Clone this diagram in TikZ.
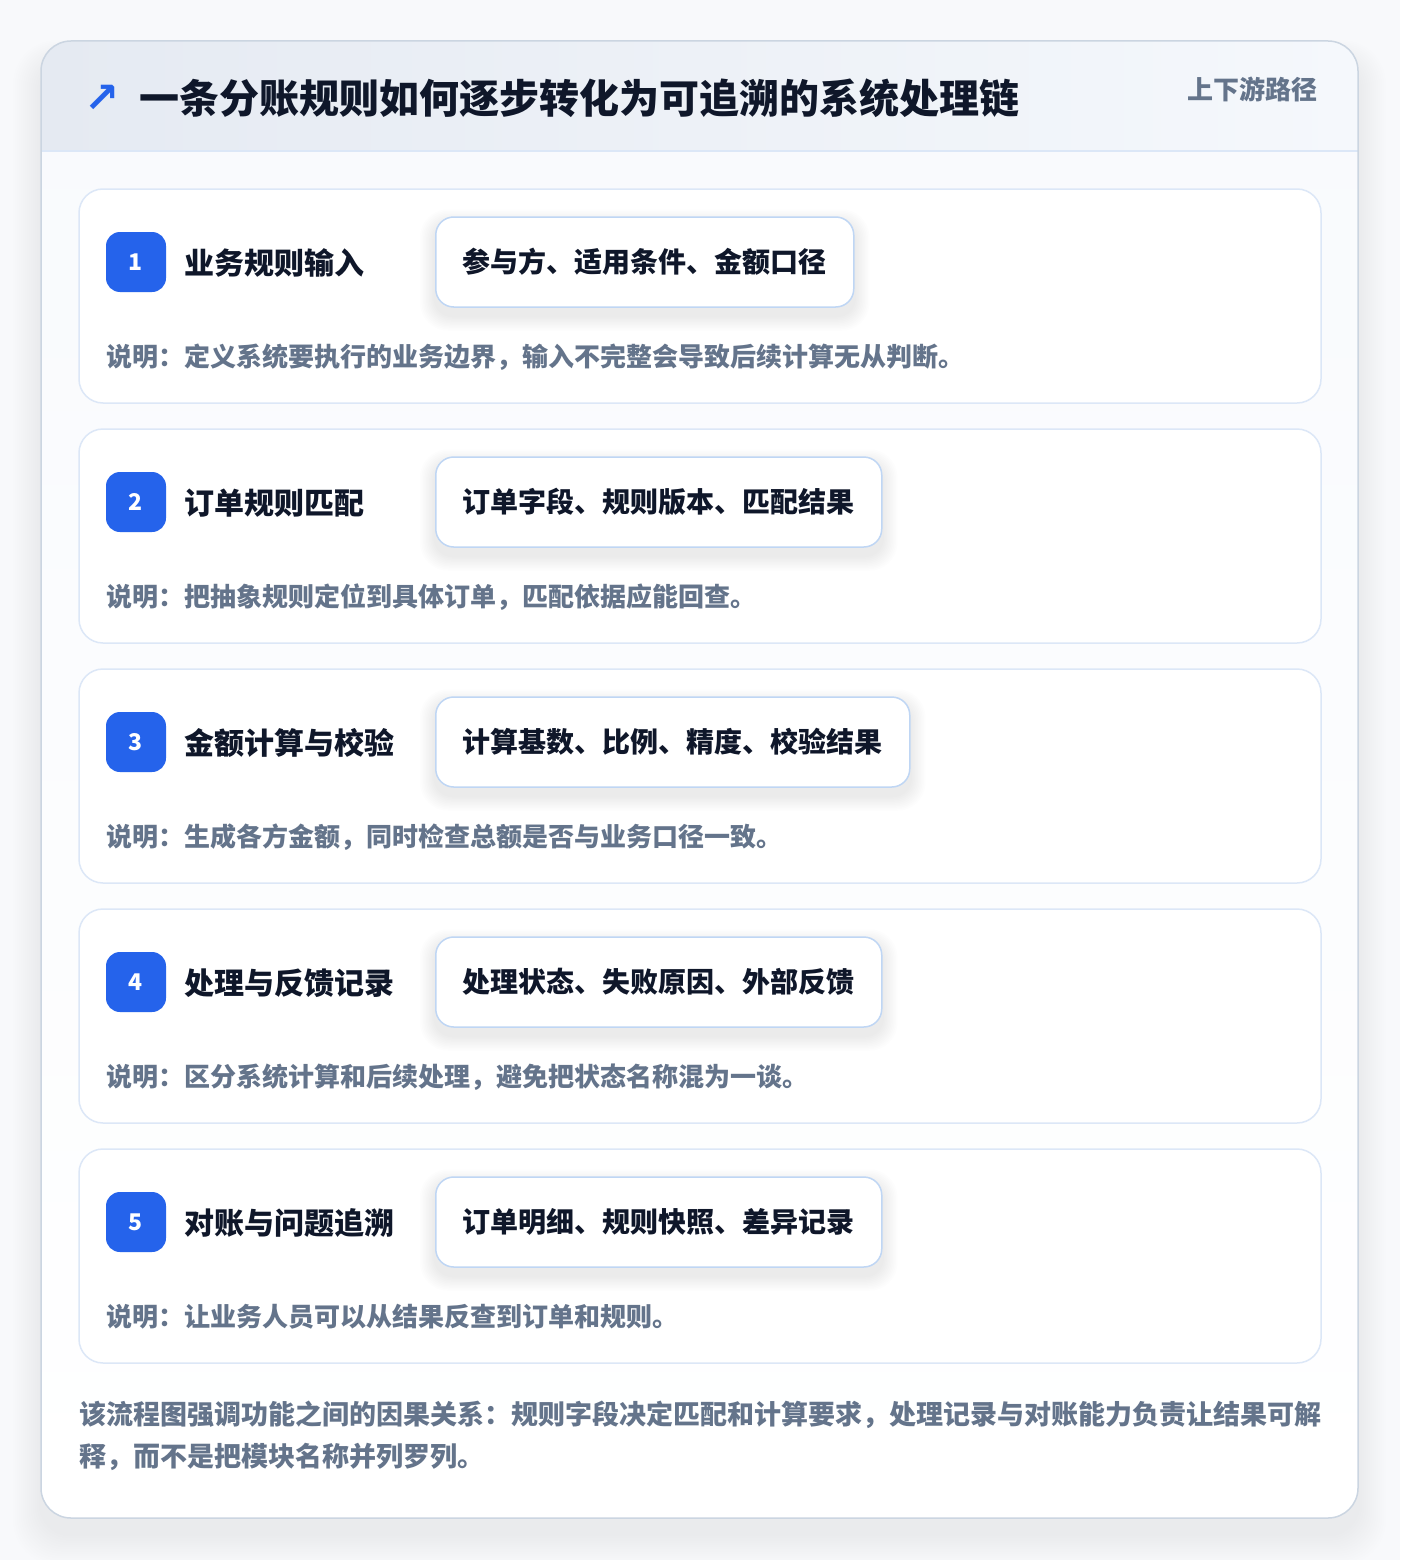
\documentclass[tikz,border=0pt]{standalone}
\usepackage{fontspec}
\setmainfont{Noto Sans CJK SC}
\newfontfamily\symfont{DejaVu Sans}
\usetikzlibrary{calc}
\definecolor{ink}{HTML}{0F172A}
\definecolor{muted}{HTML}{64748B}
\definecolor{brand}{HTML}{2563EB}
\definecolor{cardline}{HTML}{DCE7F7}
\definecolor{tagline}{HTML}{BFD6F4}
\definecolor{outerline}{HTML}{CBD5E1}
\definecolor{hdrL}{HTML}{E5EAF2}
\definecolor{hdrR}{HTML}{F5F8FC}
\definecolor{pagebg}{HTML}{F8F9FB}
\definecolor{bodytop}{HTML}{F8FAFD}
\pgfdeclarelayer{bg}
\pgfdeclarelayer{shadow}
\pgfsetlayers{bg,shadow,main}
\tikzset{
  card/.style={draw=cardline, line width=1.5pt, fill=white, rounded corners=24pt,
    minimum width=1242pt, minimum height=214pt, inner sep=0pt},
  badge/.style={fill=brand, rounded corners=14pt, minimum size=60pt, inner sep=0pt,
    text=white, font=\fontsize{23}{23}\selectfont\bfseries},
  steptitle/.style={anchor=west, inner sep=0pt, text=ink,
    font=\fontsize{30}{36}\selectfont\bfseries},
  tagbox/.style={draw=tagline, line width=1.5pt, fill=white, rounded corners=18pt,
    minimum height=90pt, inner xsep=27pt, inner ysep=0pt, anchor=west, text=ink,
    font=\fontsize{28}{34}\selectfont\bfseries},
  desc/.style={anchor=west, inner sep=0pt, text=muted,
    font=\fontsize{26}{30}\selectfont\bfseries},
  note/.style={anchor=west, inner sep=0pt, text=muted,
    font=\fontsize{27}{32}\selectfont\bfseries},
}
\begin{document}
\begin{tikzpicture}[x=1pt,y=-1pt]
\useasboundingbox (0,0) rectangle (1400,1560);
\begin{pgfonlayer}{bg}
  \fill[pagebg] (0,0) rectangle (1400,1560);
  % outer shadow
  \foreach \k in {1,...,14}{
    \fill[black, opacity=0.005, rounded corners=30pt+\k pt]
      (41-2*\k, 41-1.5*\k+20) rectangle (1358+2*\k, 1518+2.2*\k+16);
  }
  \path[top color=bodytop, bottom color=white, rounded corners=30pt]
    (41,41) rectangle (1358,1518);
  \begin{scope}
    \clip[rounded corners=30pt] (41,41) rectangle (1358,1518);
    \shade[left color=hdrL, right color=hdrR] (41,41) rectangle (1358,151);
  \end{scope}
  \draw[cardline, line width=1.5pt] (41,151) -- (1358,151);
  \draw[outerline, line width=1.5pt, rounded corners=30pt] (41,41) rectangle (1358,1518);
\end{pgfonlayer}

\node[text=brand, inner sep=0pt, font=\symfont\bfseries\fontsize{42}{42}\selectfont] (icon) at (102,99) {↗};
\node[anchor=west, inner sep=0pt, text=ink, font=\fontsize{40}{48}\selectfont\bfseries] (title) at (139,98) {一条分账规则如何逐步转化为可追溯的系统处理链};
\node[anchor=east, inner sep=0pt, text=muted, font=\fontsize{26}{30}\selectfont\bfseries] (path) at (1318,89) {上下游路径};

\foreach \i/\ttl/\tg/\dsc in {
  1/业务规则输入/参与方、适用条件、金额口径/说明：定义系统要执行的业务边界，输入不完整会导致后续计算无从判断。,
  2/订单规则匹配/订单字段、规则版本、匹配结果/说明：把抽象规则定位到具体订单，匹配依据应能回查。,
  3/金额计算与校验/计算基数、比例、精度、校验结果/说明：生成各方金额，同时检查总额是否与业务口径一致。,
  4/处理与反馈记录/处理状态、失败原因、外部反馈/说明：区分系统计算和后续处理，避免把状态名称混为一谈。,
  5/对账与问题追溯/订单明细、规则快照、差异记录/说明：让业务人员可以从结果反查到订单和规则。}{
  \pgfmathsetmacro{\top}{189+240*(\i-1)}
  \begin{pgfonlayer}{bg}
    \node[card] (card\i) at (700,\top+107) {};
  \end{pgfonlayer}
  \node[badge] (badge\i) at (136,\top+73) {\i};
  \node[steptitle] (ttl\i) at (184,\top+74) {\ttl};
  \node[tagbox] (tag\i) at (435,\top+73) {\tg};
  \node[desc] (desc\i) at (106,\top+168) {\dsc};
  \begin{pgfonlayer}{shadow}
    \foreach \k in {1,...,10}{
      \fill[black, opacity=0.007, rounded corners=18pt+\k pt]
        ($(tag\i.south west)+(-1.5*\k,1.5*\k+8)$) rectangle ($(tag\i.north east)+(1.5*\k,-1.5*\k+8)$);
    }
  \end{pgfonlayer}
}

\node[note] (note1) at (79,1415) {该流程图强调功能之间的因果关系：规则字段决定匹配和计算要求，处理记录与对账能力负责让结果可解};
\node[note] (note2) at (79,1457) {释，而不是把模块名称并列罗列。};
\end{tikzpicture}
\end{document}
